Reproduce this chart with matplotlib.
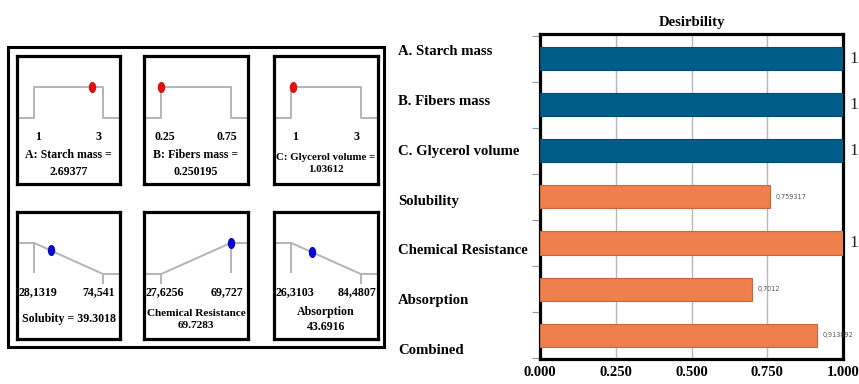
import numpy as np
import matplotlib
matplotlib.use("Agg")
import matplotlib.pyplot as plt
from matplotlib.patches import Rectangle
from matplotlib.path import Path
from matplotlib.transforms import Affine2D, blended_transform_factory

# factors (top row of small panels)
factor_names = ["A: Starch mass", "B: Fibers mass", "C: Glycerol volume"]
factor_lo = [1, 0.25, 1]
factor_hi = [3, 0.75, 3]
factor_lo_labels = ["1", "0.25", "1"]
factor_hi_labels = ["3", "0.75", "3"]
factor_values = [2.69377, 0.250195, 1.03612]

# responses (bottom row of small panels)
response_names = ["Solubity", "Chemical Resistance", "Absorption"]
response_lo = [28.1319, 27.6256, 26.3103]
response_hi = [74.541, 69.727, 84.4807]
response_lo_labels = ["28,1319", "27,6256", "26,3103"]
response_hi_labels = ["74,541", "69,727", "84,4807"]
response_goal = ["min", "max", "min"]
response_values = [39.3018, 69.7283, 43.6916]
response_one_line = [True, False, False]

# desirability bar chart
bar_labels = ["A. Starch mass", "B. Fibers mass", "C. Glycerol volume", "Solubility",
              "Chemical Resistance", "Absorption", "Combined"]
desirability = [1, 1, 1, 0.759317, 1, 0.7012, 0.913892]
desirability_text = ["1", "1", "1", "0,759317", "1", "0,7012", "0,913892"]

W, H = 859, 384
SERIF = "Liberation Serif"
GRAY = "#b4b4b4"

fig = plt.figure(figsize=(W / 100, H / 100), dpi=100)


def px_axes(x0, y0, x1, y1):
    return fig.add_axes([x0 / W, 1 - y1 / H, (x1 - x0) / W, (y1 - y0) / H])


# tall ellipse marker like the reference dots
dot = Path.unit_circle().transformed(Affine2D().scale(0.62, 1.0))

# outer frame of the left block
fig.add_artist(Rectangle((8 / W, 1 - 347 / H), (384 - 8) / W, (347 - 47) / H,
                         transform=fig.transFigure, fill=False, lw=2.2, ec="black"))

cols = [(17, 120), (144, 248), (274, 378)]
rows = [(56, 184), (212, 339)]
fit_texts = []  # panel captions that must fit inside their box


def setup_panel(ax, lo, hi, lo_lab, hi_lab):
    span = hi - lo
    xl, xr = lo - 0.25 * span, hi + 0.25 * span
    ax.set_xlim(xl, xr)
    ax.set_ylim(-2.1, 2.0)
    ax.set_xticks([])
    ax.set_yticks([])
    for s in ax.spines.values():
        s.set_linewidth(2.3)
        s.set_color("black")
    tr = blended_transform_factory(ax.transData, ax.transAxes)
    ax.text(lo + 0.05 * span, 0.365, lo_lab, transform=tr, ha="center", va="center",
            fontsize=8.6, fontweight="bold", family=SERIF)
    ax.text(hi - 0.06 * span, 0.365, hi_lab, transform=tr, ha="center", va="center",
            fontsize=8.6, fontweight="bold", family=SERIF)
    return xl, xr


for i in range(3):
    ax = px_axes(cols[i][0], rows[0][0], cols[i][1], rows[0][1])
    lo, hi = factor_lo[i], factor_hi[i]
    xl, xr = setup_panel(ax, lo, hi, factor_lo_labels[i], factor_hi_labels[i])
    ax.plot([xl, lo, lo, hi, hi, xr], [0, 0, 1, 1, 0, 0], color=GRAY, lw=1.4)
    ax.plot([factor_values[i]], [1], marker=dot, ms=7, color="#e01010", ls="none")
    t = ax.text(0.5, 0.16, f"{factor_names[i]} =\n{factor_values[i]:g}", transform=ax.transAxes,
                ha="center", va="center", fontsize=8.6, fontweight="bold", family=SERIF,
                linespacing=1.45)
    fit_texts.append(t)

for i in range(3):
    ax = px_axes(cols[i][0], rows[1][0], cols[i][1], rows[1][1])
    lo, hi = response_lo[i], response_hi[i]
    xl, xr = setup_panel(ax, lo, hi, response_lo_labels[i], response_hi_labels[i])
    if response_goal[i] == "min":
        ys = [1, 1, 0, 0]
        d = (hi - response_values[i]) / (hi - lo)
    else:
        ys = [0, 0, 1, 1]
        d = (response_values[i] - lo) / (hi - lo)
    d = min(max(d, 0), 1)
    ax.plot([xl, lo, hi, xr], ys, color=GRAY, lw=1.4)
    # limit markers
    ax.plot([lo, lo], [ys[1], 0.05 if ys[1] == 1 else -0.3], color=GRAY, lw=1.4)
    ax.plot([hi, hi], [ys[2], 0.05 if ys[2] == 1 else -0.3], color=GRAY, lw=1.4)
    ax.plot([response_values[i]], [d], marker=dot, ms=7, color="#0a0acc", ls="none")
    if response_one_line[i]:
        txt = f"{response_names[i]} = {response_values[i]:g}"
    else:
        txt = f"{response_names[i]}\n{response_values[i]:g}"
    t = ax.text(0.5, 0.155, txt, transform=ax.transAxes, ha="center", va="center",
                fontsize=8.6, fontweight="bold", family=SERIF, linespacing=1.4)
    fit_texts.append(t)

# shrink captions that are wider than the box (the original uses a narrow font)
fig.canvas.draw()
renderer = fig.canvas.get_renderer()
for t in fit_texts:
    w = t.get_window_extent(renderer).width
    if w > 99:
        t.set_fontsize(t.get_fontsize() * 99 / w)

# right: desirability bars
ax2 = px_axes(540, 34, 843, 359)
y = np.arange(len(bar_labels))
colors = ["#005c88"] * 3 + ["#f07f4e"] * 4
edges = ["#004c72"] * 3 + ["#c9663c"] * 4
ax2.barh(y, desirability, height=0.5, color=colors, edgecolor=edges, linewidth=0.8, zorder=3)
ax2.set_xlim(0, 1)
ax2.set_ylim(6.52, -0.54)
ax2.set_xticks([0, 0.25, 0.5, 0.75, 1.0])
ax2.set_xticklabels(["0.000", "0.250", "0.500", "0.750", "1.000"],
                    fontsize=10.5, fontweight="bold", family=SERIF)
ax2.tick_params(axis="x", length=0, pad=5)
ax2.set_yticks([])
ax2.set_yticks(np.arange(-0.5, len(bar_labels)), minor=True)
ax2.tick_params(axis="y", which="minor", length=6, color="#999999", width=0.8)
ax2.grid(axis="x", color="#b8b8b8", lw=1.0, zorder=0)
for s in ax2.spines.values():
    s.set_linewidth(2.3)
    s.set_color("black")
ax2.set_title("Desirbility", fontsize=10.6, fontweight="bold", family=SERIF, pad=6)

lab_tr = blended_transform_factory(fig.transFigure, ax2.transData)
for i, lab in enumerate(bar_labels):
    ax2.text(398 / W, -0.15 + 1.08 * i, lab, transform=lab_tr, ha="left", va="center",
             fontsize=10.6, fontweight="bold", family=SERIF, clip_on=False)

for i, v in enumerate(desirability):
    if v >= 1:
        ax2.annotate(desirability_text[i], (v, i), xytext=(5, 0), textcoords="offset points",
                     ha="left", va="center", fontsize=12.5, family=SERIF, color="#222233",
                     annotation_clip=False)
    else:
        ax2.annotate(desirability_text[i], (v, i), xytext=(4, 0), textcoords="offset points",
                     ha="left", va="center", fontsize=4.7, color="#555555")

fig.savefig("out.png", dpi=100)
